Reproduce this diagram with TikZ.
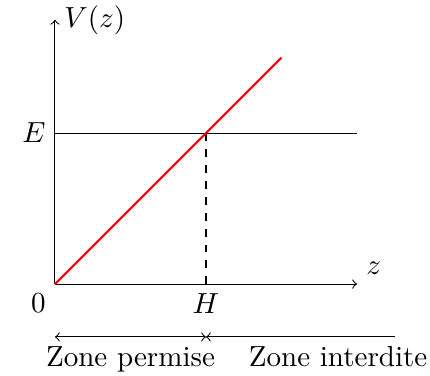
\documentclass[tikz,border=0pt]{standalone}
\begin{document}
\begin{tikzpicture}[font=\fontsize{10.95}{13.6}\selectfont,
  axis/.style={->},
  curve/.style={red, thick}]
\useasboundingbox (-0.728,-1.205) rectangle (4.967,3.762);
\coordinate (O) at (0,0);
\coordinate (X) at (4,0);
\coordinate (Y) at (0,3.5);
\coordinate (E0) at (0,2);
\coordinate (E1) at (4,2);
\coordinate (P) at (2,2);
\coordinate (Hb) at (2,0);
\coordinate (R) at (3,3);
\coordinate (A0) at (0,-0.7);
\coordinate (A1) at (2,-0.7);
\coordinate (A2) at (4.5,-0.7);
\draw[axis] (O) -- (X);
\draw[axis] (O) -- (Y);
\node[right] (vz) at (Y) {$V(z)$};
\node[above right] (zl) at (X) {$z$};
\node[below left] (zero) at (O) {$0$};
\node[left] (El) at (E0) {$E$};
\node[below] (Hl) at (Hb) {$H$};
\draw (E0) -- (E1);
\draw[dashed] (P) -- (Hb);
\draw[curve] (O) -- (R);
\draw[<->] (A0) -- (A1);
\draw[<-] (A1) -- (A2);
\node[below] (zp) at (1,-0.7) {Zone permise};
\node[below] (zi) at (3.75,-0.7) {Zone interdite};
\end{tikzpicture}
\end{document}
